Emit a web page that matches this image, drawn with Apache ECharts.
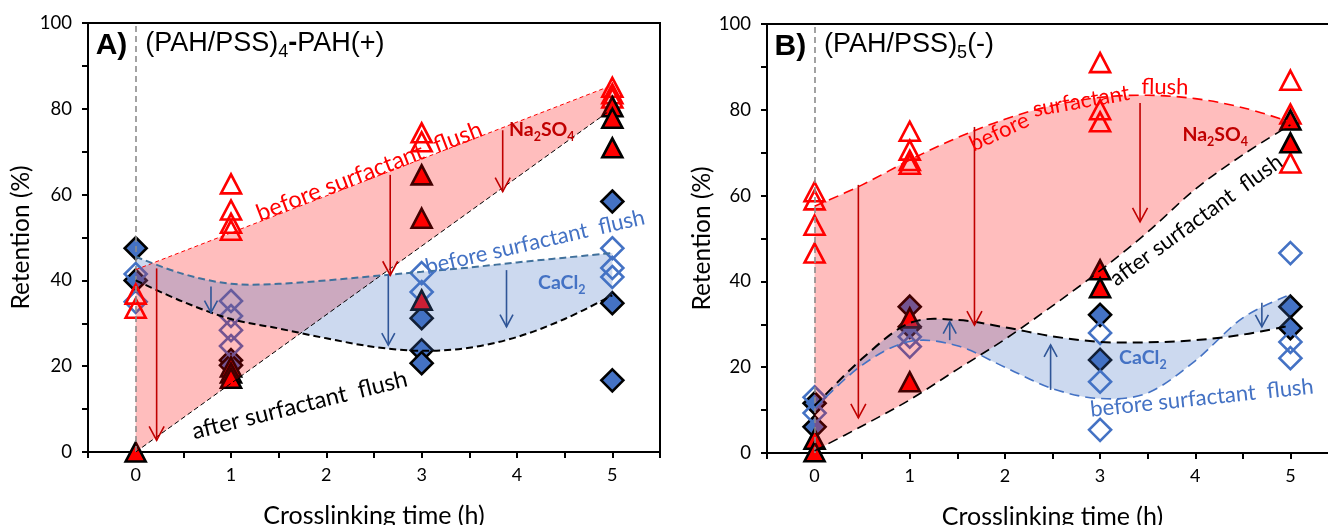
<!DOCTYPE html>
<html><head><meta charset="utf-8">
<script src="https://cdn.jsdelivr.net/npm/echarts@6/dist/echarts.min.js"></script>
<style>html,body{margin:0;padding:0;background:#fff}#c{width:1328px;height:525px}</style>
</head><body><div id="c"></div>
<script>
// ---------------- data ----------------
const xTickLabels = [0, 1, 2, 3, 4, 5];
const curveX = [0, 0.5, 1, 1.5, 2, 2.5, 3, 3.5, 4, 4.5, 5];
const lineX = [0, 5];

// Panel A trend curves
const A_naBefore = [42.5, 85.5];
const A_naAfter = [0, 80];
const A_caBefore = [45.5, 41.5, 39.2, 39.2, 40, 41, 42, 43, 44.2, 45.3, 46.4];
const A_caAfter = [40, 35, 31, 28.8, 26.5, 24.5, 23.6, 24.3, 26.8, 31, 36.5];
// Panel B trend curves
const B_naBefore = [57.5, 62.5, 68.3, 73.5, 77.8, 81, 82.9, 83.4, 82.6, 80.5, 77.2];
const B_naAfter = [0.5, 6.3, 12.4, 19.5, 26.5, 34.3, 42.5, 51.5, 61.5, 69.5, 76.5];
const B_caBefore = [10.5, 20.5, 26, 25, 20, 15, 12.7, 14, 21.5, 31.5, 37];
const B_caAfter = [11, 22, 30.3, 31, 29.3, 27.2, 25.9, 25.8, 26.3, 27.6, 29.7];

// Panel A points [time h, retention %]
const A_naBeforePts = [[0,36.8],[0,33.5],[1,62.5],[1,56.4],[1,53.3],[1,51.7],[3,74.4],[3,72.3],[5,85],[5,83.5],[5,82.5]];
const A_naAfterPts = [[0,0],[1,19.8],[1,18.4],[1,17.2],[3,64.6],[3,54.5],[3,35.4],[5,80.5],[5,77.8],[5,70.9]];
const A_caBeforePts = [[0,41.5],[0,35],[1,35.2],[1,31.7],[1,28.4],[1,24.7],[3,41.7],[3,37.3],[5,47.5],[5,42.9],[5,40.8]];
const A_caAfterPts = [[0,47.5],[0,40],[1,21.4],[1,20.2],[3,31.2],[3,23.7],[3,20.7],[5,58.4],[5,34.7],[5,16.7]];
// Panel B points
const B_naBeforePts = [[0,60.9],[0,59],[0,53.1],[0,46.6],[1,75],[1,70.6],[1,68.2],[1,67.3],[3,91],[3,80],[3,77.2],[5,86.9],[5,79],[5,67.6]];
const B_naAfterPts = [[0,3.2],[0,0.3],[1,31.5],[1,16.6],[3,42.7],[3,38.5],[5,77.6],[5,72.3]];
const B_caBeforePts = [[0,13],[0,9.3],[1,27.1],[1,24.8],[3,28],[3,16.6],[3,5.4],[5,46.6],[5,25.9],[5,22.1]];
const B_caAfterPts = [[0,11.6],[0,6.1],[1,34.1],[1,29.4],[3,32.2],[3,21.7],[5,34.1],[5,29.1]];

// Arrows [time, from, to]
const A_naArrows = [[0.22,42.8,2.7],[2.67,64.6,41.2],[3.85,75,60.7]];
const A_caArrows = [[0.79,38.6,32.5],[2.65,41.2,24.9],[3.89,42.4,29.2]];
const B_naArrows = [[0.46,62.5,8.2],[1.68,76,29.8],[3.42,81.6,53.9]];
const B_caArrows = [[1.42,26.3,30.6],[2.48,14.7,25.2],[4.70,35,29.4]];

// ---------------- styling ----------------
const FONT = 'Lato';
const RED = '#FF0000', DRED = '#C00000', BLUE = '#4472C4', DBLUE = '#2F5597';
const chart = echarts.init(document.getElementById('c'));

function xAxisCfg(gi) {
  return {
    gridIndex: gi, type: 'value', min: -0.5, max: 5.5, interval: 0.5,
    axisLine: {show: true, onZero: false, lineStyle: {color: '#000', width: 2}},
    axisTick: {show: true, length: 6, lineStyle: {color: '#000', width: 2}},
    axisLabel: {color: '#000', fontFamily: FONT, fontSize: 18, margin: 14,
      formatter: v => xTickLabels.indexOf(v) >= 0 ? String(v) : ''},
    splitLine: {show: false},
    name: 'Crosslinking time (h)', nameLocation: 'middle', nameGap: 51,
    nameTextStyle: {color: '#000', fontFamily: FONT, fontSize: 25}
  };
}
function yAxisCfg(gi, gap) {
  return {
    gridIndex: gi, type: 'value', min: 0, max: 100, interval: 10,
    axisLine: {show: true, onZero: false, lineStyle: {color: '#000', width: 2}},
    axisTick: {show: true, length: 6, lineStyle: {color: '#000', width: 2}},
    axisLabel: {color: '#000', fontFamily: FONT, fontSize: 18.5, margin: 16,
      formatter: v => (v % 20 === 0 ? String(v) : '')},
    splitLine: {show: false},
    name: 'Retention (%)', nameLocation: 'middle', nameGap: gap,
    nameTextStyle: {color: '#000', fontFamily: FONT, fontSize: 24.5}
  };
}
function scatter(gi, data, symbol, fill, stroke) {
  return {type: 'scatter', xAxisIndex: gi, yAxisIndex: gi, data: data, symbol: symbol,
    symbolSize: symbol === 'triangle' ? [20, 19] : [22, 22], z: 2, silent: true,
    itemStyle: {color: fill, borderColor: stroke, borderWidth: 2.6, opacity: 1}};
}
// cubic (Catmull-Rom) rendering of a curve through pixel points
function segs(pts, smooth) {
  let d = '';
  for (let i = 0; i < pts.length - 1; i++) {
    const p1 = pts[i], p2 = pts[i + 1];
    if (!smooth) { d += ' L' + p2[0] + ' ' + p2[1]; continue; }
    const p0 = pts[i - 1] || p1, p3 = pts[i + 2] || p2;
    const c1 = [p1[0] + (p2[0] - p0[0]) / 6, p1[1] + (p2[1] - p0[1]) / 6];
    const c2 = [p2[0] - (p3[0] - p1[0]) / 6, p2[1] - (p3[1] - p1[1]) / 6];
    d += ' C' + c1[0] + ' ' + c1[1] + ' ' + c2[0] + ' ' + c2[1] + ' ' + p2[0] + ' ' + p2[1];
  }
  return d;
}
function toPx(api, xs, ys) { return xs.map((x, i) => api.coord([x, ys[i]])); }
function band(gi, xs, upper, lower, color, z, smooth) {
  return {type: 'custom', xAxisIndex: gi, yAxisIndex: gi, z: z, silent: true, clip: true,
    data: [[xs[0], upper[0]]],
    renderItem: function (params, api) {
      const up = toPx(api, xs, upper), lo = toPx(api, xs, lower).reverse();
      const d = 'M' + up[0][0] + ' ' + up[0][1] + segs(up, smooth) +
        ' L' + lo[0][0] + ' ' + lo[0][1] + segs(lo, smooth) + ' Z';
      return {type: 'path', shape: {pathData: d}, style: {fill: color, stroke: null}};
    }};
}
function curve(gi, xs, ys, color, width, dash, smooth) {
  return {type: 'custom', xAxisIndex: gi, yAxisIndex: gi, z: 6, silent: true, clip: true,
    data: [[xs[0], ys[0]]],
    renderItem: function (params, api) {
      const p = toPx(api, xs, ys);
      const d = 'M' + p[0][0] + ' ' + p[0][1] + segs(p, smooth);
      return {type: 'path', shape: {pathData: d},
        style: {fill: null, stroke: color, lineWidth: width, lineDash: dash}};
    }};
}
function arrows(gi, data, color, hw, hl, lw) {
  return {type: 'custom', xAxisIndex: gi, yAxisIndex: gi, z: 7, silent: true,
    dimensions: ['t', 'y1', 'y2'], encode: {x: 't', y: ['y1', 'y2']}, data: data,
    renderItem: function (params, api) {
      const p1 = api.coord([api.value(0), api.value(1)]);
      const p2 = api.coord([api.value(0), api.value(2)]);
      const d = p2[1] > p1[1] ? 1 : -1;
      return {type: 'group', children: [
        {type: 'line', shape: {x1: p1[0], y1: p1[1], x2: p2[0], y2: p2[1]}, style: {stroke: color, lineWidth: lw}},
        {type: 'polyline', shape: {points: [[p2[0] - hw, p2[1] - d * hl], [p2[0], p2[1]], [p2[0] + hw, p2[1] - d * hl]]},
          style: {stroke: color, fill: null, lineWidth: lw}}
      ]};
    }};
}
function zeroLine(gi) {
  return {type: 'line', xAxisIndex: gi, yAxisIndex: gi, data: [], z: 6, silent: true,
    markLine: {silent: true, symbol: 'none', label: {show: false},
      lineStyle: {color: '#8C8C8C', type: [6, 4], width: 1.6}, data: [{xAxis: 0}]}};
}

const PINK = 'rgba(255,0,0,0.26)';
const LBLUE = 'rgba(68,114,196,0.27)';
const series = [
  // panel A
  scatter(0, A_caAfterPts, 'diamond', BLUE, '#000'),
  scatter(0, A_caBeforePts, 'diamond', 'rgba(0,0,0,0)', BLUE),
  scatter(0, A_naBeforePts, 'triangle', 'rgba(0,0,0,0)', RED),
  scatter(0, A_naAfterPts, 'triangle', RED, '#000'),
  band(0, lineX, A_naBefore, A_naAfter, PINK, 3, false),
  band(0, curveX, A_caBefore, A_caAfter, LBLUE, 4, true),
  curve(0, lineX, A_naBefore, RED, 1, [4, 3], false),
  curve(0, lineX, A_naAfter, '#000', 1, [5, 3], false),
  curve(0, curveX, A_caBefore, '#41719C', 2, [7, 4], true),
  curve(0, curveX, A_caAfter, '#000', 2, [7, 4], true),
  zeroLine(0),
  arrows(0, A_naArrows, DRED, 7.5, 14, 1.6),
  arrows(0, A_caArrows, DBLUE, 6.5, 12, 1.6),
  // panel B
  scatter(1, B_caAfterPts, 'diamond', BLUE, '#000'),
  scatter(1, B_caBeforePts, 'diamond', 'rgba(0,0,0,0)', BLUE),
  scatter(1, B_naBeforePts, 'triangle', 'rgba(0,0,0,0)', RED),
  scatter(1, B_naAfterPts, 'triangle', RED, '#000'),
  band(1, curveX, B_naBefore, B_naAfter, PINK, 3, true),
  band(1, curveX, B_caBefore, B_caAfter, LBLUE, 4, true),
  curve(1, curveX, B_naBefore, RED, 1.6, [10, 6], true),
  curve(1, curveX, B_naAfter, '#000', 1.6, [10, 6], true),
  curve(1, curveX, B_caBefore, BLUE, 1.6, [10, 6], true),
  curve(1, curveX, B_caAfter, '#000', 2, [10, 6], true),
  zeroLine(1),
  arrows(1, B_naArrows, DRED, 7.5, 14, 1.6),
  arrows(1, B_caArrows, DBLUE, 6.5, 12, 1.6)
];

chart.setOption({
  animation: false,
  backgroundColor: '#fff',
  grid: [
    {left: 88, top: 23, width: 572, height: 429, show: true, borderColor: '#000', borderWidth: 2, outerBoundsMode: 'none', containLabel: false},
    {left: 767, top: 24, width: 571, height: 429, show: true, borderColor: '#000', borderWidth: 2, outerBoundsMode: 'none', containLabel: false}
  ],
  xAxis: [xAxisCfg(0), xAxisCfg(1)],
  yAxis: [yAxisCfg(0, 54), yAxisCfg(1, 50)],
  series: series
});

// ---------------- annotations (anchored in data coordinates) ----------------
const sub = (c, w) => ({
  n: {fontFamily: FONT, fontSize: 19.5, fontWeight: w, fill: c, lineHeight: 24, verticalAlign: 'top'},
  s: {fontFamily: FONT, fontSize: 12.5, fontWeight: w, fill: c, lineHeight: 13, verticalAlign: 'bottom'}
});
const ttl = {
  m: {fontFamily: 'Liberation Sans', fontSize: 27, fill: '#000', lineHeight: 31, verticalAlign: 'top'},
  b: {fontFamily: 'Liberation Sans', fontSize: 27, fontWeight: 'bold', fill: '#000', lineHeight: 31, verticalAlign: 'top'},
  B: {fontFamily: 'Liberation Sans', fontSize: 30, fontWeight: 'bold', fill: '#000', lineHeight: 31, verticalAlign: 'top'},
  s: {fontFamily: 'Liberation Sans', fontSize: 18, fill: '#000', lineHeight: 16, verticalAlign: 'bottom'}
};
const notes = [
  {g: 0, x: -0.42, y: 94.6, rot: 0, align: 'left', text: '{B|A)}', rich: ttl},
  {g: 0, x: 0.1, y: 94.7, rot: 0, align: 'left', text: '{m|(PAH/PSS)}{s|4}{b|-}{m|PAH(+)}', rich: ttl},
  {g: 1, x: -0.42, y: 94.6, rot: 0, align: 'left', text: '{B|B)}', rich: ttl},
  {g: 1, x: 0.1, y: 94.7, rot: 0, align: 'left', text: '{m|(PAH/PSS)}{s|5}{m|(-)}', rich: ttl},
  {g: 0, x: 2.45, y: 65.4, rot: 21, size: 23.5, text: 'before surfactant  flush', color: RED},
  {g: 0, x: 4.26, y: 74.6, rot: 0, text: '{n|Na}{s|2}{n|SO}{s|4}', rich: sub(DRED, 'bold')},
  {g: 0, x: 4.19, y: 48.9, rot: 13, text: 'before surfactant  flush', color: BLUE},
  {g: 0, x: 4.47, y: 39.1, rot: 0, text: '{n|CaCl}{s|2}', rich: sub(BLUE, 'bold')},
  {g: 0, x: 1.72, y: 10.9, rot: 14, size: 23.5, text: 'after surfactant  flush', color: '#000'},
  {g: 1, x: 1.94, y: 74.8, rot: 25, text: 'before', color: RED},
  {g: 1, x: 2.80, y: 82.0, rot: 10, text: 'surfactant', color: RED},
  {g: 1, x: 3.68, y: 85.3, rot: -1, text: 'flush', color: RED},
  {g: 1, x: 4.21, y: 73.7, rot: 0, text: '{n|Na}{s|2}{n|SO}{s|4}', rich: sub(DRED, 'bold')},
  {g: 1, x: 4.01, y: 54.3, rot: 36, text: 'after surfactant  flush', color: '#000'},
  {g: 1, x: 3.45, y: 21.7, rot: 0, text: '{n|CaCl}{s|2}', rich: sub(BLUE, 'bold')},
  {g: 1, x: 4.07, y: 12.8, rot: 6, text: 'before surfactant  flush', color: BLUE}
];
const graphics = notes.map(n => {
  const p = chart.convertToPixel({xAxisIndex: n.g, yAxisIndex: n.g}, [n.x, n.y]);
  const style = {text: n.text, align: n.align || 'center', verticalAlign: 'middle'};
  if (n.rich) { style.rich = n.rich; }
  else { style.fill = n.color; style.font = (n.size || 22) + 'px ' + FONT; }
  return {type: 'text', x: p[0], y: p[1], rotation: n.rot * Math.PI / 180, z: 20, silent: true, style: style};
});
chart.setOption({graphic: graphics});
</script>
</body></html>
